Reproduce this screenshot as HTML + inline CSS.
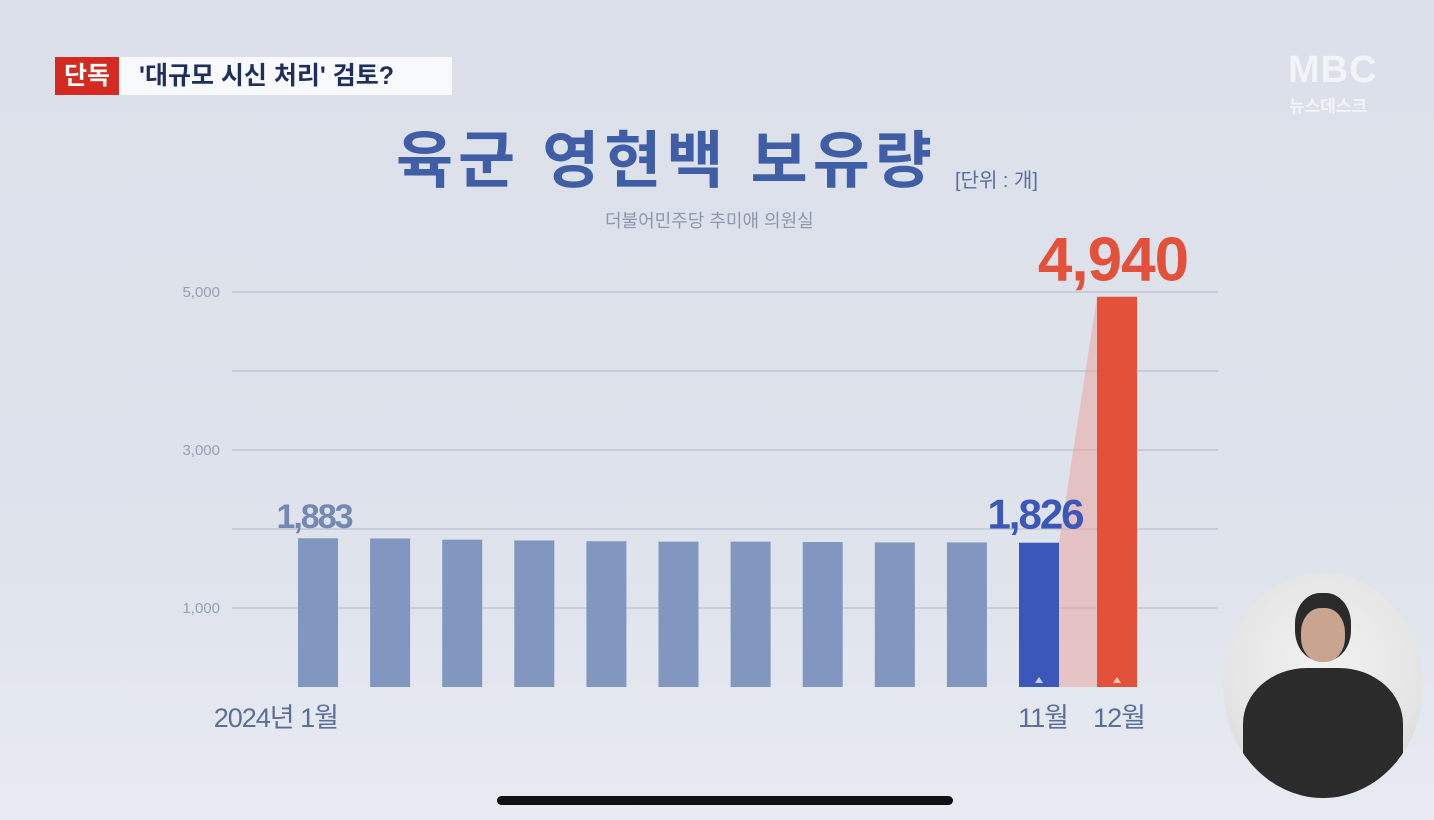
<!DOCTYPE html>
<html><head><meta charset="utf-8">
<style>
body{margin:0;width:1434px;height:820px;overflow:hidden;background:#dde2eb;font-family:"Liberation Sans","Noto Sans CJK KR",sans-serif;}
#wrap{position:relative;width:1434px;height:820px;background:linear-gradient(180deg,#dbe0ea 0%,#dfe3ec 70%,#e8ebf1 100%);}
.abs{position:absolute;}
</style></head><body>
<div id="wrap">
<div class="abs" style="left:55px;top:57px;width:64px;height:38px;background:#d42a22;color:#fff;font-size:25px;font-weight:bold;line-height:38px;text-align:center;">단독</div>
<div class="abs" style="left:119px;top:57px;width:333px;height:38px;background:#f8f9fb;color:#1e2f5c;font-size:25px;font-weight:bold;line-height:38px;padding-left:20px;box-sizing:border-box;">'대규모 시신 처리' 검토?</div>
<div class="abs" style="left:1288px;top:50px;color:#f2f4f8;font-size:38px;font-weight:bold;letter-spacing:1px;line-height:40px;">MBC</div>
<div class="abs" style="left:1289px;top:92px;color:#f2f4f8;font-size:17px;font-weight:bold;">뉴스데스크</div>
<div class="abs" style="left:396px;top:124px;color:#3f5ea6;font-size:62px;font-weight:bold;letter-spacing:5px;line-height:76px;white-space:nowrap;">육군 영현백 보유량</div>
<div class="abs" style="left:955px;top:164px;color:#5a6f9c;font-size:20px;">[단위 : 개]</div>
<div class="abs" style="left:605px;top:207px;color:#8e97ab;font-size:18px;">더불어민주당 추미애 의원실</div>
<svg class="abs" style="left:0;top:0" width="1434" height="820" id="chart"></svg>
<div class="abs" style="left:1223px;top:573px;width:200px;height:225px;border-radius:50%;background:radial-gradient(circle at 50% 40%,#f2f2f2 0%,#e4e4e4 60%,#cfcfcf 100%);overflow:hidden;">
 <div style="position:absolute;left:72px;top:20px;width:56px;height:68px;border-radius:45%;background:#2a2a2a;"></div>
 <div style="position:absolute;left:78px;top:35px;width:44px;height:54px;border-radius:45%;background:#c9a58f;"></div>
 <div style="position:absolute;left:20px;top:95px;width:160px;height:140px;border-radius:40% 40% 0 0;background:#2b2b2b;"></div>
</div>
<div class="abs" style="left:497px;top:796px;width:456px;height:9px;border-radius:5px;background:#111;"></div>
</div>
<script>
const categories=["1월","2월","3월","4월","5월","6월","7월","8월","9월","10월","11월","12월"];
const values=[1883,1880,1865,1855,1845,1840,1840,1835,1830,1830,1826,4940];
const tickValues=[1000,2000,3000,4000,5000];
const tickLabels=["1,000","","3,000","","5,000"];
const svg=document.getElementById('chart');
const NS="http://www.w3.org/2000/svg";
const y0=687,k=0.0790;
function y(v){return y0-v*k;}
function x(i){return i<11?318+72.1*i:1117;}
const bw=40;
function el(t,a){const e=document.createElementNS(NS,t);for(const n in a)e.setAttribute(n,a[n]);svg.appendChild(e);return e;}
tickValues.forEach((v,i)=>{
 const l=el('line',{x1:232,x2:1218,y1:y(v),y2:y(v),stroke:'#b9c0cf','stroke-width':1.3});
 
 
 if(tickLabels[i]){const t=el('text',{x:220,y:y(v)+5,'text-anchor':'end','font-size':15,fill:'#98a0b2','font-family':'Liberation Sans, sans-serif'});t.textContent=tickLabels[i];
 
 }
});
const p=el('polygon',{points:`${x(10)+bw/2},${y(values[10])} ${x(11)-bw/2},${y(values[11])} ${x(11)-bw/2},${y0} ${x(10)+bw/2},${y0}`,fill:'#e9a7a4','fill-opacity':0.55});


values.forEach((v,i)=>{
 const c=i==11?'#e4513a':(i==10?'#3a57b9':'#8197c0');
 const r=el('rect',{x:x(i)-bw/2,y:y(v),width:bw,height:y0-y(v),fill:c});
 
 
 if(i>=10){const tr=el('polygon',{points:`${x(i)-4},${y0-4} ${x(i)+4},${y0-4} ${x(i)},${y0-10}`,fill:i==10?'#c7d3f2':'#f6c9b9'});
 
 }
});
function label(txt,cx,cy,size,color,name,ls){const t=el('text',{x:cx,y:cy,'text-anchor':'middle','font-size':size,'font-weight':'bold',fill:color,'font-family':'Liberation Sans, sans-serif','letter-spacing':ls});t.textContent=txt;
 
 }
function fmt(v){return v.toLocaleString('en-US');}
label(fmt(values[0]),x(0)-4,y(values[0])-10,34,'#7488b4','value-label-jan',-2);
label(fmt(values[10]),x(10)-4,y(values[10])-14,42,'#3a57b9','value-label-nov',-2);
label(fmt(values[11]),x(11)-4,y(values[11])-16,62,'#e4513a','value-label-dec',-1);
function xl(txt,cx,name,anchor){const t=el('text',{x:cx,y:727,'text-anchor':anchor||'middle','font-size':27,fill:'#5d6f99','font-family':'Liberation Sans, Noto Sans CJK KR, sans-serif','letter-spacing':-1});t.textContent=txt;
 
 }
xl('2024년 '+categories[0],338,'x-label-jan','end');
xl(categories[10],x(10)+4,'x-label-nov');
xl(categories[11],x(11)+2,'x-label-dec');
</script>
</body></html>
